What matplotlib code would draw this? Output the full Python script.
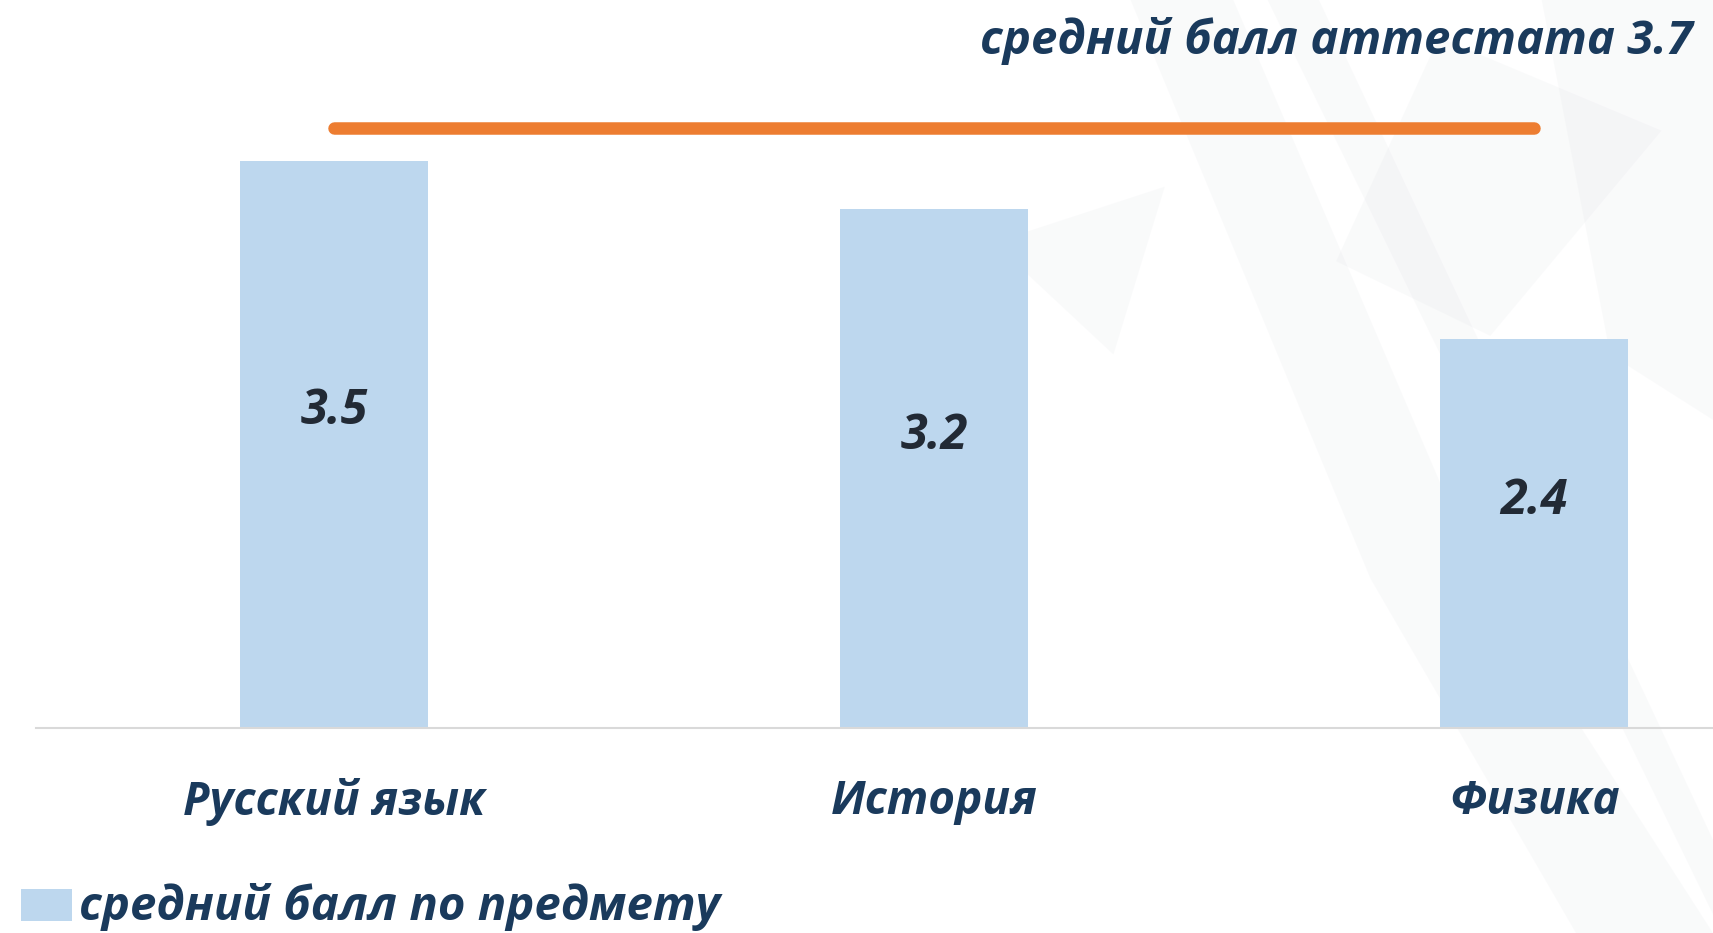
import numpy as np
import matplotlib
matplotlib.use('Agg')
import matplotlib.pyplot as plt
from matplotlib.patches import Polygon

plt.rcParams['font.family'] = ['Open Sans', 'DejaVu Sans']

# data
subjects = ['Русский язык', 'История', 'Физика']
subject_scores = [3.5, 3.2, 2.4]
certificate_avg = 3.7
title_text = 'средний балл аттестата 3.7'
legend_text = 'средний балл по предмету'

navy = '#1a3a5c'
bar_color = '#bdd7ee'
orange = '#ed7d31'

fig = plt.figure(figsize=(17.13, 9.33), dpi=100)

# faint background decoration on the right
bg = fig.add_axes([0, 0, 1, 1], zorder=0)
bg.set_xlim(0, 1)
bg.set_ylim(0, 1)
bg.axis('off')
shapes = [
    [(0.66, 1.0), (0.72, 1.0), (0.86, 0.40), (1.0, 0.0), (0.92, 0.0), (0.80, 0.38)],
    [(0.74, 1.0), (0.77, 1.0), (1.0, 0.10), (1.0, 0.02)],
    [(0.84, 0.96), (0.97, 0.86), (0.87, 0.64), (0.78, 0.72)],
    [(0.90, 1.0), (1.0, 1.0), (1.0, 0.55), (0.94, 0.62)],
    [(0.58, 0.74), (0.68, 0.80), (0.65, 0.62)],
]
for pts in shapes:
    bg.add_patch(Polygon(pts, closed=True, facecolor='#d8dbe0', edgecolor='none', alpha=0.13))

ax = fig.add_axes([0.021, 0.2197, 0.979, 0.7803], zorder=1)
ax.patch.set_alpha(0)
x = np.arange(len(subjects))

ax.bar(x, subject_scores, width=0.313, color=bar_color, zorder=2)
ax.plot([x[0], x[-1]], [certificate_avg, certificate_avg], color=orange,
        linewidth=9, solid_capstyle='round', zorder=3)

for xi, v in zip(x, subject_scores):
    ax.text(xi, v / 2 + 0.2, f'{v}', ha='center', va='center', fontsize=35,
            fontweight='bold', fontstyle='italic', color='#222a35')

ax.set_xlim(-0.497, 2.298)
ax.set_ylim(0, 4.49)
ax.set_yticks([])
ax.set_xticks(x)
ax.set_xticklabels(subjects, fontsize=33, fontweight='bold', fontstyle='italic', color=navy)
ax.tick_params(axis='x', length=0, pad=36)
for s in ['top', 'left', 'right']:
    ax.spines[s].set_visible(False)
ax.spines['bottom'].set_color('#d9d9d9')
ax.spines['bottom'].set_linewidth(1.5)

# title (series label of the orange line)
fig.text(0.988, 0.956, title_text, ha='right', va='center', fontsize=34,
         fontweight='bold', fontstyle='italic', color=navy)

# legend for bars
leg_ax = fig.add_axes([0.0123, 0.013, 0.03, 0.034])
leg_ax.axis('off')
leg_ax.add_patch(plt.Rectangle((0, 0), 1, 1, color=bar_color))
fig.text(0.046, 0.028, legend_text, ha='left', va='center', fontsize=34,
         fontweight='bold', fontstyle='italic', color=navy)

fig.savefig('out.png', dpi=100)
